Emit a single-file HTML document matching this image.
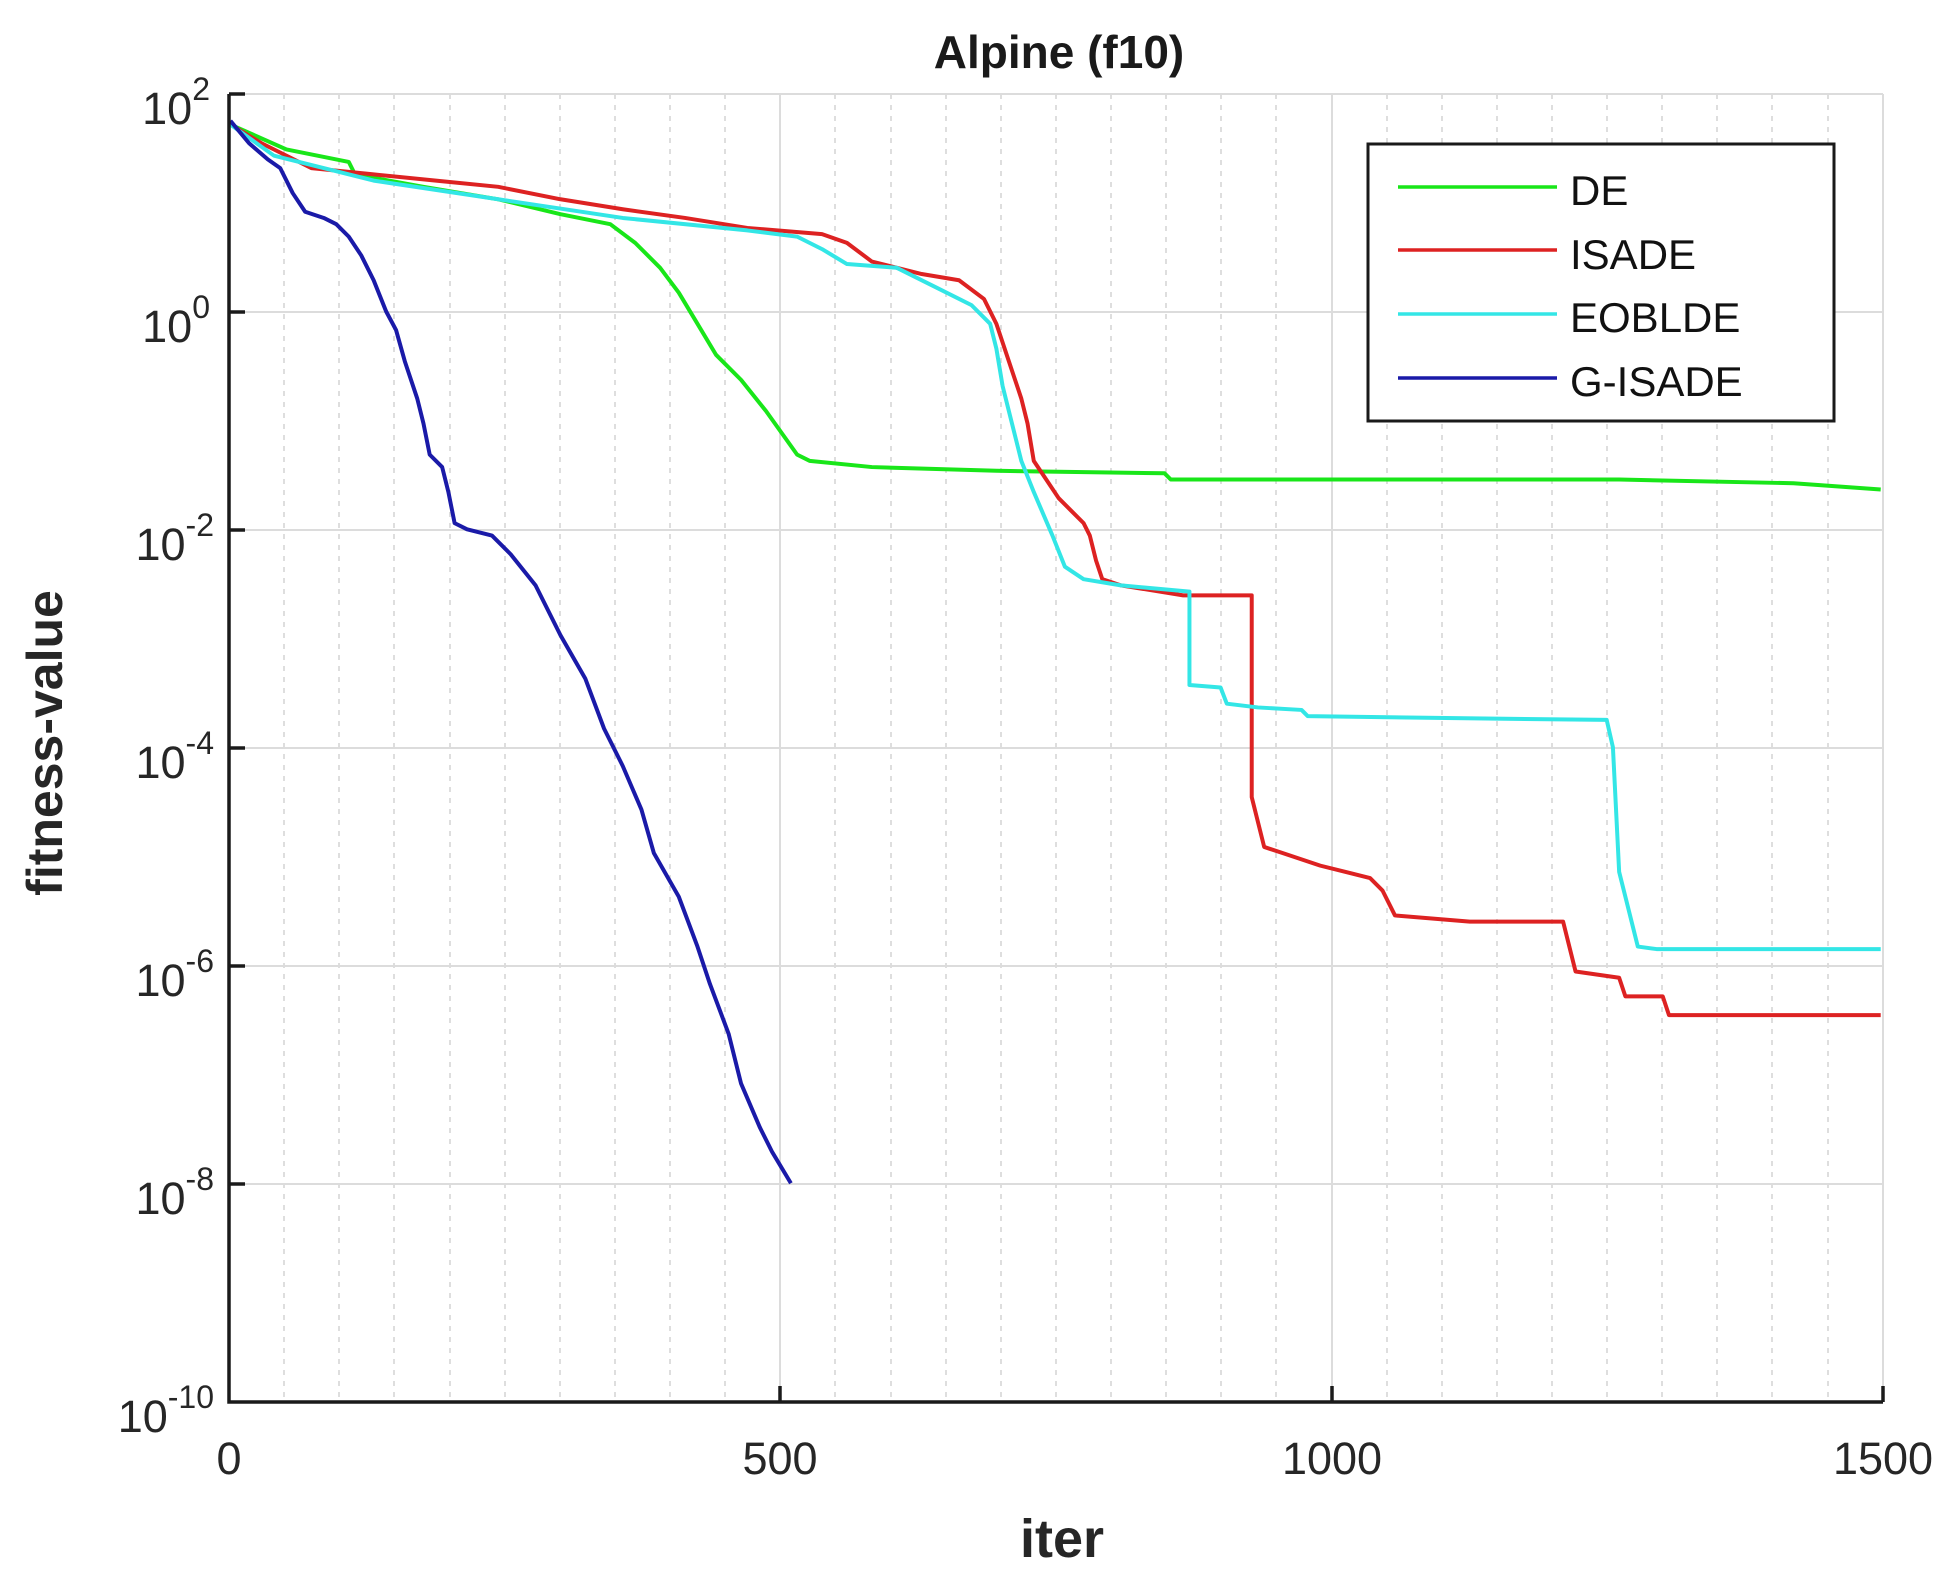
<!DOCTYPE html>
<html><head><meta charset="utf-8"><style>
html,body{margin:0;padding:0;background:#fff;}
svg{display:block;font-family:"Liberation Sans",Arial,sans-serif;}
</style></head><body>
<svg width="1953" height="1579" viewBox="0 0 1953 1579" xmlns="http://www.w3.org/2000/svg">
<rect width="1953" height="1579" fill="#fff"/>
<g stroke="#d4d4d4" stroke-width="1.5" stroke-dasharray="5,6">
<line x1="284" y1="94" x2="284" y2="1402"/><line x1="339" y1="94" x2="339" y2="1402"/><line x1="394" y1="94" x2="394" y2="1402"/><line x1="450" y1="94" x2="450" y2="1402"/><line x1="505" y1="94" x2="505" y2="1402"/><line x1="560" y1="94" x2="560" y2="1402"/><line x1="615" y1="94" x2="615" y2="1402"/><line x1="670" y1="94" x2="670" y2="1402"/><line x1="725" y1="94" x2="725" y2="1402"/>
<line x1="835" y1="94" x2="835" y2="1402"/><line x1="891" y1="94" x2="891" y2="1402"/><line x1="946" y1="94" x2="946" y2="1402"/><line x1="1001" y1="94" x2="1001" y2="1402"/><line x1="1056" y1="94" x2="1056" y2="1402"/><line x1="1111" y1="94" x2="1111" y2="1402"/><line x1="1166" y1="94" x2="1166" y2="1402"/><line x1="1221" y1="94" x2="1221" y2="1402"/><line x1="1276" y1="94" x2="1276" y2="1402"/>
<line x1="1387" y1="94" x2="1387" y2="1402"/><line x1="1442" y1="94" x2="1442" y2="1402"/><line x1="1497" y1="94" x2="1497" y2="1402"/><line x1="1552" y1="94" x2="1552" y2="1402"/><line x1="1607" y1="94" x2="1607" y2="1402"/><line x1="1662" y1="94" x2="1662" y2="1402"/><line x1="1717" y1="94" x2="1717" y2="1402"/><line x1="1772" y1="94" x2="1772" y2="1402"/><line x1="1828" y1="94" x2="1828" y2="1402"/>
</g>
<g stroke="#dcdcdc" stroke-width="2">
<line x1="780" y1="94" x2="780" y2="1402"/><line x1="1332" y1="94" x2="1332" y2="1402"/><line x1="1883" y1="94" x2="1883" y2="1402"/>
<line x1="229" y1="94" x2="1883" y2="94"/><line x1="229" y1="312" x2="1883" y2="312"/><line x1="229" y1="530" x2="1883" y2="530"/><line x1="229" y1="748" x2="1883" y2="748"/><line x1="229" y1="966" x2="1883" y2="966"/><line x1="229" y1="1184" x2="1883" y2="1184"/>
</g>
<g transform="scale(1.2455)" fill="none" stroke-width="3.2" stroke-linejoin="round">
<polyline stroke="#19e619" points="185,100 230,120 280,130 285,140 340,150 400,160 450,172 490,180 510,195 530,215 545,235 560,260 575,285 595,305 615,330 640,365 650,370 700,375 800,378 935,380 940,385 1300,385 1440,388 1510,393"/>
<polyline stroke="#dd2222" points="185,100 210,115 250,135 300,140 350,145 400,150 450,160 500,168 550,175 600,183 660,188 680,195 700,210 740,220 770,225 790,240 800,260 810,290 820,320 825,340 830,370 840,385 850,400 860,410 870,420 875,430 880,450 885,465 900,470 950,478 1005,478 1005,640 1015,680 1030,685 1060,695 1080,700 1100,705 1110,715 1120,735 1180,740 1255,740 1265,780 1300,785 1305,800 1335,800 1340,815 1510,815"/>
<polyline stroke="#33e6e6" points="185,100 220,125 300,145 400,160 500,175 600,185 640,190 660,200 680,212 720,215 750,230 780,245 795,260 800,280 805,310 815,350 820,370 830,395 845,430 855,455 870,465 900,470 955,475 955,550 980,552 985,565 1010,568 1045,570 1050,575 1200,577 1290,578 1295,600 1300,700 1315,760 1330,762 1510,762"/>
<polyline stroke="#1a1aa8" points="185,97 200,115 215,128 225,135 235,155 245,170 260,175 270,180 280,190 290,205 300,225 310,250 318,265 325,290 335,320 340,340 345,365 355,375 360,395 365,420 375,425 395,430 410,445 430,470 450,510 470,545 485,585 500,615 515,650 525,685 545,720 560,760 570,790 585,830 595,870 610,905 620,925 635,950"/>
</g>
<g stroke="#1a1a1a" stroke-width="3.5" fill="none">
<polyline points="229,94 229,1402 1883,1402"/>
<line x1="229" y1="94" x2="245" y2="94"/><line x1="229" y1="312" x2="245" y2="312"/><line x1="229" y1="530" x2="245" y2="530"/><line x1="229" y1="748" x2="245" y2="748"/><line x1="229" y1="966" x2="245" y2="966"/><line x1="229" y1="1184" x2="245" y2="1184"/>
<line x1="780" y1="1402" x2="780" y2="1386"/><line x1="1332" y1="1402" x2="1332" y2="1386"/><line x1="1883" y1="1402" x2="1883" y2="1386"/>
</g>
<g fill="#262626" font-size="45" text-anchor="end">
<text x="210" y="124">10<tspan dy="-24" font-size="32">2</tspan></text>
<text x="210" y="342">10<tspan dy="-24" font-size="32">0</tspan></text>
<text x="214" y="560">10<tspan dy="-24" font-size="32">-2</tspan></text>
<text x="214" y="778">10<tspan dy="-24" font-size="32">-4</tspan></text>
<text x="214" y="996">10<tspan dy="-24" font-size="32">-6</tspan></text>
<text x="214" y="1214">10<tspan dy="-24" font-size="32">-8</tspan></text>
<text x="214" y="1432">10<tspan dy="-24" font-size="32">-10</tspan></text>
</g>
<g fill="#262626" font-size="45" text-anchor="middle">
<text x="229" y="1474">0</text><text x="780" y="1474">500</text><text x="1332" y="1474">1000</text><text x="1883" y="1474">1500</text>
</g>
<text x="1062" y="1557" font-size="54" font-weight="bold" text-anchor="middle" fill="#262626">iter</text>
<text x="1059" y="68" font-size="46" font-weight="bold" text-anchor="middle" fill="#1a1a1a">Alpine (f10)</text>
<text transform="translate(62,743) rotate(-90)" font-size="50" font-weight="bold" text-anchor="middle" fill="#262626">fitness-value</text>
<rect x="1368" y="144" width="466" height="277" fill="#fff" stroke="#1a1a1a" stroke-width="3"/>
<g stroke-width="3.5">
<line x1="1398" y1="187" x2="1557" y2="187" stroke="#19e619"/>
<line x1="1398" y1="250" x2="1557" y2="250" stroke="#dd2222"/>
<line x1="1398" y1="314" x2="1557" y2="314" stroke="#33e6e6"/>
<line x1="1398" y1="378" x2="1557" y2="378" stroke="#1a1aa8"/>
</g>
<g font-size="42" fill="#111">
<text x="1570" y="205">DE</text>
<text x="1570" y="269">ISADE</text>
<text x="1570" y="332">EOBLDE</text>
<text x="1570" y="396">G-ISADE</text>
</g>
</svg>
</body></html>
